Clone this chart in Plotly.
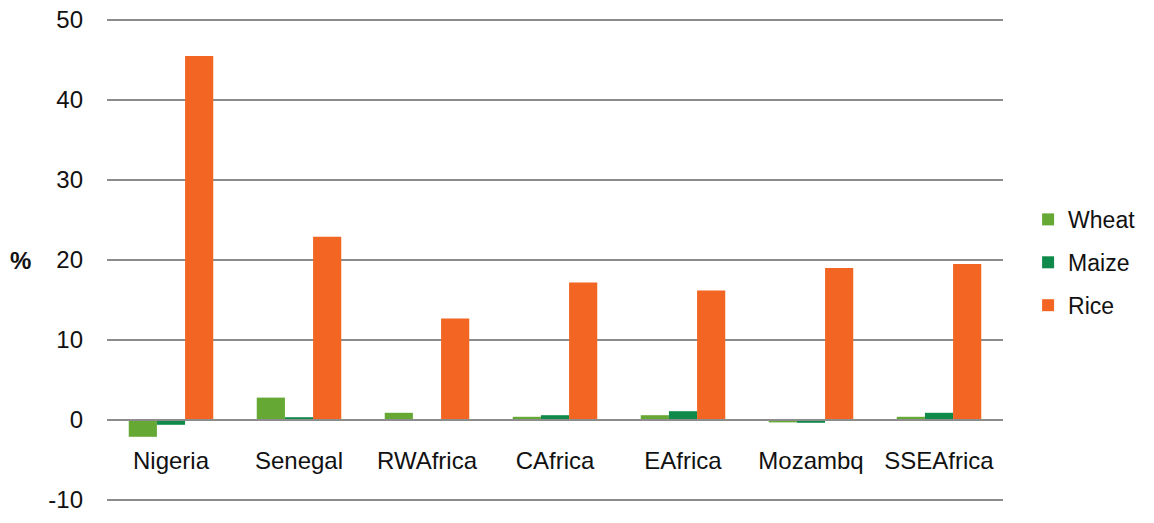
"""Variacao de precos por pais e cultura (Wheat, Maize, Rice)."""

import plotly.graph_objects as go


CATEGORIES = ["Nigeria", "Senegal", "RWAfrica", "CAfrica", "EAfrica", "Mozambq", "SSEAfrica"]
WHEAT = [-2.1, 2.8, 0.9, 0.4, 0.6, -0.3, 0.4]
MAIZE = [-0.6, 0.35, 0.1, 0.6, 1.1, -0.35, 0.9]
RICE = [45.5, 22.9, 12.7, 17.2, 16.2, 19.0, 19.5]
Y_TICKS = [-10, 0, 10, 20, 30, 40, 50]
Y_LABELS = ["-10", "0", "10", "20", "30", "40", "50"]

FONT = "Liberation Sans, Arial, sans-serif"
GRID = "#8c8c8c"
# um pouco alem de -10/50 para que as linhas de grade das pontas aparecam
Y_RANGE = [-10.5, 50.5]


def main():
    fig = go.Figure()

    series = [
        ("Wheat", WHEAT, "#66a834"),
        ("Maize", MAIZE, "#0f8a4a"),
        ("Rice", RICE, "#f26522"),
    ]
    for name, values, color in series:
        fig.add_trace(
            go.Bar(
                x=CATEGORIES,
                y=values,
                name=name,
                marker=dict(color=color, line=dict(width=0)),
                legendgroup=name,
            )
        )

    zero_pos = (0 - Y_RANGE[0]) / (Y_RANGE[1] - Y_RANGE[0])

    fig.update_layout(
        barmode="group",
        bargap=0.34,
        bargroupgap=0,
        width=1154,
        height=523,
        paper_bgcolor="white",
        plot_bgcolor="white",
        margin=dict(l=107, r=151, t=16, b=19, autoexpand=False),
        font=dict(family=FONT, size=24, color="#111111"),
        legend=dict(
            x=1.028,
            y=0.495,
            xanchor="left",
            yanchor="middle",
            traceorder="grouped",
            tracegroupgap=10,
            font=dict(size=23),
            itemwidth=30,
        ),
        xaxis=dict(
            anchor="free",
            position=zero_pos,
            showgrid=False,
            showline=True,
            linecolor=GRID,
            linewidth=2,
            ticks="",
            ticklabelstandoff=19,
            tickfont=dict(size=24),
        ),
        yaxis=dict(
            range=Y_RANGE,
            tickvals=Y_TICKS,
            ticktext=Y_LABELS,
            showgrid=True,
            gridcolor=GRID,
            gridwidth=1.5,
            zeroline=False,
            showline=False,
            ticks="",
            ticklabelstandoff=23,
            tickfont=dict(size=24),
        ),
        annotations=[
            dict(
                text="<b>%</b>",
                xref="paper",
                yref="y",
                x=(33 - 107) / 896,
                y=20,
                xanchor="right",
                yanchor="middle",
                showarrow=False,
                font=dict(size=24),
            )
        ],
    )

    # tira a margem padrao do body para a figura ocupar a janela inteira
    fig.write_html(
        "out.html",
        config={"displayModeBar": False},
        post_script="document.body.style.margin = '0';",
    )


if __name__ == "__main__":
    main()
